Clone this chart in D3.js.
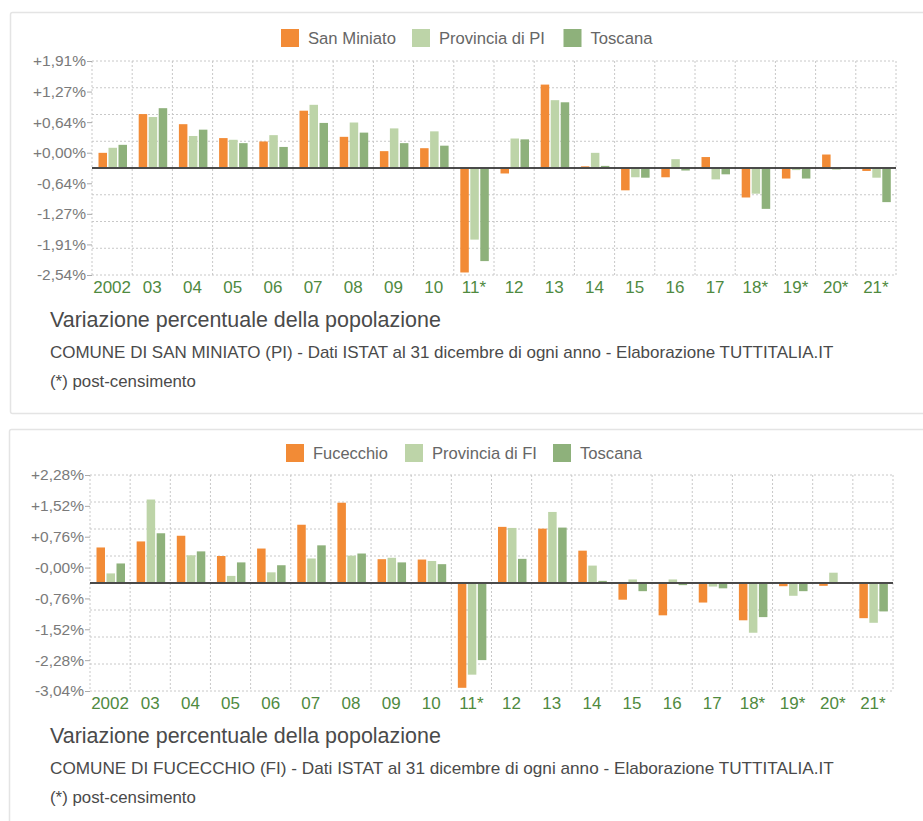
<!DOCTYPE html>
<html>
<head>
<meta charset="utf-8">
<script src="https://cdn.jsdelivr.net/npm/d3@7"></script>
<style>
  html, body { margin: 0; padding: 0; background: #fff; }
  svg { display: block; font-family: "Liberation Sans", Arial, Helvetica, sans-serif; }
</style>
</head>
<body>
<svg id="chart" width="923" height="821"></svg>
<script>
// ---- DATA ----
const years = ["2002","03","04","05","06","07","08","09","10","11*","12","13","14","15","16","17","18*","19*","20*","21*"];

const seriesTop = ["San Miniato", "Provincia di PI", "Toscana"];
const sanMiniato  = [0.36, 1.28, 1.04, 0.71, 0.63, 1.36, 0.74, 0.40, 0.47, -2.48, -0.13, 1.98, 0.04, -0.53, -0.22, 0.26, -0.70, -0.25, 0.32, -0.07];
const provinciaPI = [0.48, 1.21, 0.76, 0.67, 0.78, 1.50, 1.08, 0.94, 0.87, -1.70, 0.70, 1.61, 0.36, -0.22, 0.21, -0.27, -0.61, -0.05, -0.04, -0.23];
const toscanaTop  = [0.55, 1.42, 0.91, 0.59, 0.50, 1.07, 0.84, 0.59, 0.53, -2.21, 0.68, 1.56, 0.05, -0.23, -0.06, -0.15, -0.97, -0.25, -0.02, -0.81];
const tickLabelsTop = ["+1,91%","+1,27%","+0,64%","+0,00%","-0,64%","-1,27%","-1,91%","-2,54%"];
const extentTop = 2.54;
const subtitleTop = "COMUNE DI SAN MINIATO (PI) - Dati ISTAT al 31 dicembre di ogni anno - Elaborazione TUTTITALIA.IT";

const seriesBottom = ["Fucecchio", "Provincia di FI", "Toscana"];
const fucecchio     = [1.00, 1.17, 1.33, 0.76, 0.97, 1.64, 2.26, 0.67, 0.66, -2.95, 1.58, 1.53, 0.91, -0.47, -0.91, -0.55, -1.05, -0.09, -0.08, -0.99];
const provinciaFI   = [0.27, 2.35, 0.78, 0.20, 0.30, 0.69, 0.77, 0.71, 0.62, -2.58, 1.55, 2.00, 0.49, 0.10, 0.10, -0.10, -1.40, -0.36, 0.29, -1.12];
const toscanaBottom = [0.55, 1.40, 0.89, 0.58, 0.50, 1.06, 0.83, 0.58, 0.53, -2.17, 0.68, 1.56, 0.06, -0.23, -0.06, -0.15, -0.96, -0.23, 0.00, -0.80];
const tickLabelsBottom = ["+2,28%","+1,52%","+0,76%","-0,00%","-0,76%","-1,52%","-2,28%","-3,04%"];
const extentBottom = 3.04;
const subtitleBottom = "COMUNE DI FUCECCHIO (FI) - Dati ISTAT al 31 dicembre di ogni anno - Elaborazione TUTTITALIA.IT";

const titleText = "Variazione percentuale della popolazione";
const noteText = "(*) post-censimento";

const colors = ["#f28b36", "#bdd4a8", "#8eb17b"];

// ---- DRAW ----
const svg = d3.select("#chart");

function fitText(sel, width) {
  const node = sel.node();
  const fs = parseFloat(sel.attr("font-size"));
  const w = node.getComputedTextLength();
  if (w > 0) sel.attr("font-size", (fs * width / w).toFixed(2));
  return sel;
}

function drawPanel(cfg) {
  const g = svg.append("g");
  // panel box
  g.append("rect")
    .attr("x", cfg.box[0] + 0.5).attr("y", cfg.box[1] + 0.5)
    .attr("width", cfg.box[2]).attr("height", cfg.box[3])
    .attr("rx", 2)
    .attr("fill", "#fff").attr("stroke", "#e4e4e4").attr("stroke-width", 1.5);

  const { left, right, top, bottom } = cfg.plot;

  const x0 = d3.scaleBand().domain(years).range([left, right]).padding(0);
  const x1 = d3.scaleBand().domain([0, 1, 2]).range([6.5, 35]).paddingInner(0.15);
  const y = d3.scaleLinear().domain([-cfg.extent, cfg.extent]).range([bottom, top]);
  const yLab = d3.scalePoint().domain(cfg.tickLabels).range([top, bottom]);

  // horizontal grid (9 lines)
  const gridVals = d3.range(9).map(i => -cfg.extent + i * cfg.extent / 4);
  g.append("g").selectAll("line").data(gridVals).join("line")
    .attr("x1", left).attr("x2", right)
    .attr("y1", d => y(d)).attr("y2", d => y(d))
    .attr("stroke", "#c8c8c8").attr("stroke-dasharray", "2,2");

  // vertical grid at band edges
  const vVals = years.map(d => x0(d)).concat([right]);
  g.append("g").selectAll("line").data(vVals).join("line")
    .attr("x1", d => d).attr("x2", d => d)
    .attr("y1", top).attr("y2", bottom)
    .attr("stroke", "#c8c8c8").attr("stroke-dasharray", "2,2");

  // bars
  const rows = years.map((yr, i) => ({ yr, vals: cfg.values.map(s => s[i]) }));
  const grp = g.append("g").selectAll("g").data(rows).join("g")
    .attr("transform", d => `translate(${x0(d.yr)},0)`);
  grp.selectAll("rect").data(d => d.vals.map((v, k) => ({ v, k }))).join("rect")
    .attr("x", d => x1(d.k))
    .attr("width", x1.bandwidth())
    .attr("y", d => Math.min(y(d.v), y(0)))
    .attr("height", d => Math.abs(y(d.v) - y(0)))
    .attr("fill", d => colors[d.k]);

  // zero line
  g.append("line")
    .attr("x1", left).attr("x2", right)
    .attr("y1", y(0)).attr("y2", y(0))
    .attr("stroke", "#4a4a4a").attr("stroke-width", 2);

  // y axis labels
  const ya = g.append("g").attr("transform", `translate(${left},0)`)
    .call(d3.axisLeft(yLab).tickSize(5).tickPadding(1));
  ya.select(".domain").remove();
  ya.selectAll(".tick line").attr("stroke", "#aaa");
  ya.selectAll(".tick text").attr("fill", "#7a7a7a").attr("font-size", 15.5)
    .attr("font-family", "Liberation Sans, Arial, sans-serif");

  // x axis labels
  const xa = g.append("g").attr("transform", `translate(0,${bottom})`)
    .call(d3.axisBottom(x0).tickSize(0).tickPadding(6));
  xa.select(".domain").remove();
  xa.selectAll(".tick text").attr("fill", "#4f8a3f").attr("font-size", 17)
    .attr("font-family", "Liberation Sans, Arial, sans-serif");

  // legend
  const leg = g.append("g");
  cfg.series.forEach((name, k) => {
    const lx = cfg.legend[k];
    leg.append("rect").attr("x", lx).attr("y", cfg.legendY)
      .attr("width", 18).attr("height", 18).attr("fill", colors[k]);
    const lt = leg.append("text").attr("x", lx + 27).attr("y", cfg.legendY + 14.5)
      .attr("font-size", 15).attr("fill", "#666").text(name);
    fitText(lt, cfg.legendW[k]);
  });

  // titles
  const t1 = g.append("text").attr("x", 50).attr("y", cfg.titleY)
    .attr("font-size", 19).attr("fill", "#4a4a4a").text(titleText);
  fitText(t1, 391);
  const t2 = g.append("text").attr("x", 50).attr("y", cfg.titleY + 31)
    .attr("font-size", 13.5).attr("fill", "#4a4a4a").text(cfg.subtitle);
  fitText(t2, 784);
  const t3 = g.append("text").attr("x", 50).attr("y", cfg.titleY + 60)
    .attr("font-size", 13.5).attr("fill", "#4a4a4a").text(noteText);
  fitText(t3, 146);
}

drawPanel({
  box: [10, 12, 916, 401],
  plot: { left: 92, right: 896, top: 61, bottom: 275 },
  extent: extentTop,
  tickLabels: tickLabelsTop,
  values: [sanMiniato, provinciaPI, toscanaTop],
  series: seriesTop,
  legend: [281, 412, 563.5],
  legendW: [88, 106, 62],
  legendY: 29,
  subtitle: subtitleTop,
  titleY: 327
});

drawPanel({
  box: [9, 429, 917, 400],
  plot: { left: 90, right: 893, top: 475, bottom: 691 },
  extent: extentBottom,
  tickLabels: tickLabelsBottom,
  values: [fucecchio, provinciaFI, toscanaBottom],
  series: seriesBottom,
  legend: [286, 405, 553],
  legendW: [75, 105, 62],
  legendY: 444,
  subtitle: subtitleBottom,
  titleY: 743
});
</script>
</body>
</html>
